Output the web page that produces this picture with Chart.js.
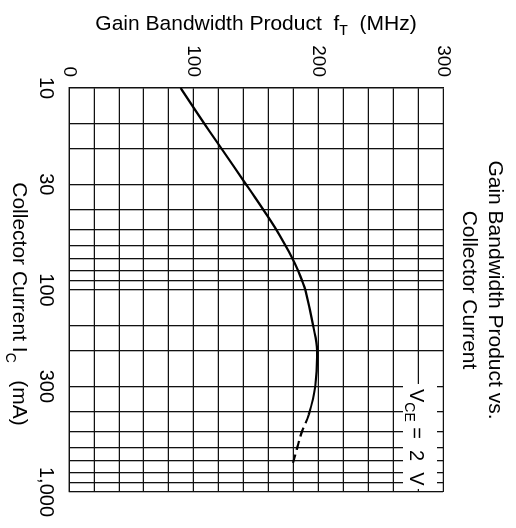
<!DOCTYPE html>
<html><head><meta charset="utf-8">
<script src="https://cdn.jsdelivr.net/npm/chart.js@4.4.1/dist/chart.umd.min.js"></script>
<style>
html,body{margin:0;padding:0;background:#fff;overflow:hidden;width:516px;height:528px;}
#wrap{position:absolute;left:0;top:0;width:528px;height:516px;transform-origin:0 0;transform:translate(516px,0) rotate(90deg);}
canvas{display:block;}
</style></head><body>
<div id="wrap"><canvas id="c" width="528" height="516"></canvas></div>
<script>
// ---- data ----
const collectorCurrent = [10, 15, 20, 30, 40, 50, 60, 70, 80, 90, 100, 150, 200, 300, 415, 500, 600, 718];
const gainBandwidth   = [89.5, 108.5, 122.5, 142, 155.8, 166, 173.5, 179.2, 183.6, 187, 189.6, 195.8, 199, 197.5, 192.3, 187, 183.2, 179.7];
const dashedFrom = 415;
const currentGrid = [10, 15, 20, 30, 40, 50, 60, 70, 80, 90, 100, 150, 200, 300, 400, 500, 600, 700, 800, 900, 1000];
const currentLabels = [10, 30, 100, 300, 1000];
const gainLabels = [0, 100, 200, 300];
const titleLines = ['Gain Bandwidth Product vs.', 'Collector Current'];
const xTitleParts = [['Collector Current I', 0], ['C', 1], ['   (mA)', 0]];
const yTitleParts = [['Gain Bandwidth Product  f', 0], ['T', 1], ['  (MHz)', 0]];
const noteParts = [['V', 0], ['CE', 1], [' =  2  V', 0]];

const FONT = "'Liberation Sans', Arial, Helvetica, sans-serif";
const GRID = '#111';

function drawRich(ctx, parts, x, y, size, subSize, subDy, align) {
  const items = parts.map(p => {
    const s = p[1] ? subSize : size;
    ctx.font = s + 'px ' + FONT;
    return { t: p[0], s, dy: p[1] ? subDy : 0, w: ctx.measureText(p[0]).width };
  });
  const total = items.reduce((a, b) => a + b.w, 0);
  let cx = align === 'center' ? x - total / 2 : x;
  items.forEach(it => {
    ctx.font = it.s + 'px ' + FONT;
    ctx.fillText(it.t, cx, y + it.dy);
    cx += it.w;
  });
}

const richText = {
  id: 'richText',
  afterDraw(chart) {
    const ctx = chart.ctx, a = chart.chartArea;
    ctx.save();
    ctx.fillStyle = '#000';
    ctx.textBaseline = 'alphabetic';
    ctx.textAlign = 'left';
    // x-axis title
    drawRich(ctx, xTitleParts, (a.left + a.right) / 2 + 14, a.bottom + 56, 21, 14, 7, 'center');
    // y-axis title (rotated)
    ctx.save();
    ctx.translate(30, (a.top + a.bottom) / 2);
    ctx.rotate(-Math.PI / 2);
    drawRich(ctx, yTitleParts, 0, 0, 21, 14, 5, 'center');
    ctx.restore();
    // annotation with white box
    ctx.fillStyle = '#fff';
    ctx.fillRect(a.right - 108, a.top + 6, 105, 34);
    ctx.fillStyle = '#000';
    drawRich(ctx, noteParts, a.right - 103, a.top + 33, 20, 14, 5, 'left');
    ctx.restore();
  }
};

Chart.defaults.font.family = FONT;
Chart.defaults.color = '#000';

new Chart(document.getElementById('c'), {
  type: 'line',
  data: {
    datasets: [{
      data: collectorCurrent.map((x, i) => ({ x, y: gainBandwidth[i] })),
      borderColor: '#000',
      borderWidth: 2.2,
      pointRadius: 0,
      fill: false,
      tension: 0.4,
      segment: { borderDash: c => (c.p0.parsed.x >= dashedFrom ? [9, 5] : undefined) }
    }]
  },
  options: {
    responsive: false,
    animation: false,
    layout: { padding: { left: 0, right: 34, top: 0, bottom: 0 } },
    plugins: {
      legend: { display: false },
      tooltip: { enabled: false },
      title: {
        display: true,
        text: titleLines,
        fullSize: false,
        color: '#000',
        font: { size: 21, weight: 'normal', lineHeight: 1.2, family: FONT },
        padding: { top: 9, bottom: 13.6 }
      }
    },
    scales: {
      x: {
        type: 'logarithmic',
        min: 10, max: 1000,
        afterBuildTicks: s => { s.ticks = currentGrid.map(v => ({ value: v })); },
        afterFit: s => { s.height = 69; },
        grid: { color: GRID, lineWidth: 1.3, drawTicks: false },
        border: { color: GRID, width: 1.3 },
        ticks: {
          autoSkip: false, maxRotation: 0, minRotation: 0, padding: 11,
          font: { size: 20 }, color: '#000',
          callback: v => (currentLabels.includes(v) ? v.toLocaleString('en-US') : '')
        }
      },
      y: {
        type: 'linear',
        min: 0, max: 300,
        afterFit: s => { s.width = 88; },
        grid: { color: GRID, lineWidth: 1.3, drawTicks: false },
        border: { color: GRID, width: 1.3 },
        ticks: {
          stepSize: 20, autoSkip: false, padding: 11,
          font: { size: 19 }, color: '#000',
          callback: v => (gainLabels.includes(v) ? String(v) : '')
        }
      }
    }
  },
  plugins: [richText]
});
</script>
</body></html>
